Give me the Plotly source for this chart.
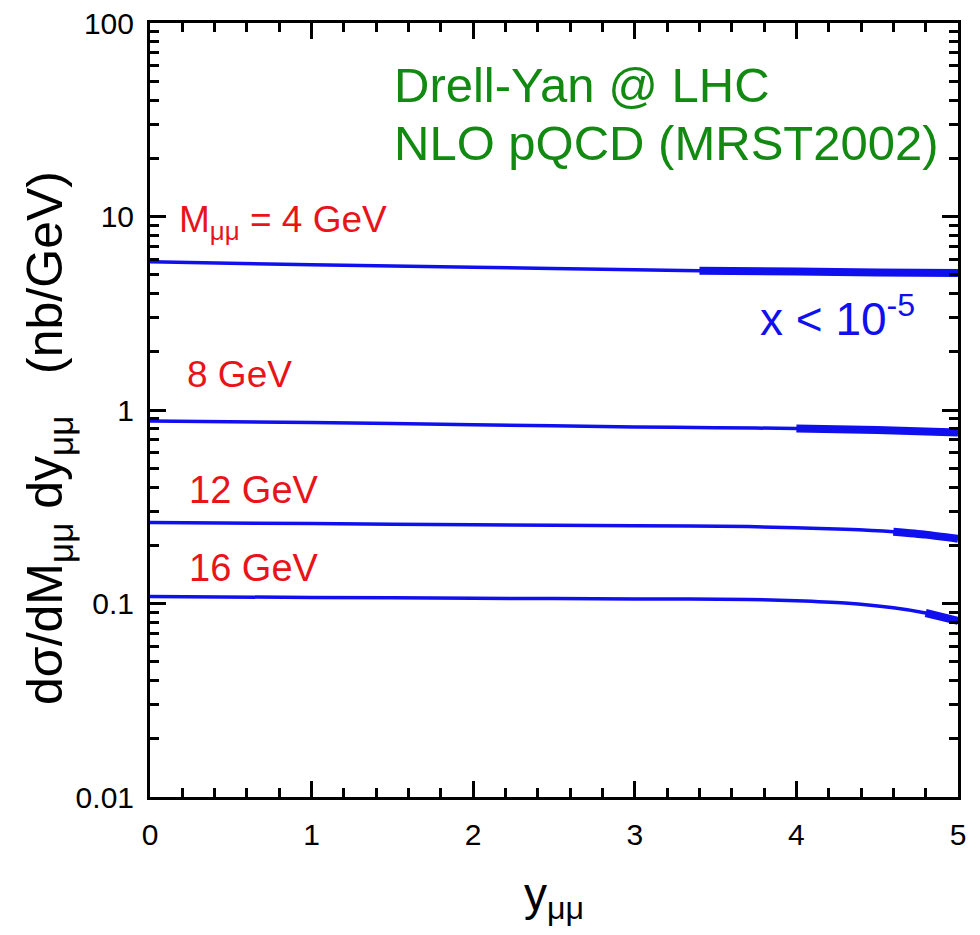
import plotly.graph_objects as go

# Dimuon rapidity (y_mumu) grid and NLO cross sections dsigma/dM dy (nb/GeV)
rapidity_4 = [0, 1, 2, 3, 3.4, 4, 4.5, 5]
xsec_4 = [5.83, 5.64, 5.47, 5.30, 5.25, 5.19, 5.14, 5.10]

rapidity_8 = [0, 1, 2, 3, 3.5, 4, 4.5, 5]
xsec_8 = [0.877, 0.862, 0.840, 0.818, 0.810, 0.803, 0.788, 0.766]

rapidity_12 = [0, 1, 2, 3, 3.7, 4.3, 4.6, 4.8, 5]
xsec_12 = [0.262, 0.259, 0.255, 0.252, 0.2497, 0.242, 0.235, 0.227, 0.216]

rapidity_16 = [0, 1, 2, 3, 3.7, 4.0, 4.3, 4.6, 4.8, 5]
xsec_16 = [0.1086, 0.1075, 0.1064, 0.1056, 0.1050, 0.1034, 0.1005, 0.0950, 0.0893, 0.0814]

# Rapidity above which the probed x drops below 1e-5 (drawn thick)
small_x_start = [3.4, 4.0, 4.6, 4.8]

mass_labels = ["M<sub>μμ</sub> = 4 GeV", "8 GeV", "12 GeV", "16 GeV"]

y_tick_vals = [0.01, 0.1, 1, 10, 100]
y_tick_text = ["0.01", "0.1", "1", "10", "100"]
x_tick_vals = [0, 1, 2, 3, 4, 5]

BLUE = "#1010ee"
RED = "#e8141a"
GREEN = "#128a12"
FONT = "Liberation Sans, Arial, Helvetica, sans-serif"

W, H = 980, 935
ML, MR, MT, MB = 150, 22, 23, 138


def paper_x(px):
    return (px - ML) / (W - ML - MR)


def paper_y(py):
    return (H - MB - py) / (H - MT - MB)


curves = [
    (rapidity_4, xsec_4),
    (rapidity_8, xsec_8),
    (rapidity_12, xsec_12),
    (rapidity_16, xsec_16),
]

fig = go.Figure()
for (ys, xs), x0 in zip(curves, small_x_start):
    fig.add_trace(go.Scatter(
        x=ys, y=xs, mode="lines",
        line=dict(color=BLUE, width=3.5, shape="spline", smoothing=0.6),
        showlegend=False, hoverinfo="skip",
    ))
    ys_hi = [v for v in ys if v >= x0]
    xs_hi = [s for v, s in zip(ys, xs) if v >= x0]
    fig.add_trace(go.Scatter(
        x=ys_hi, y=xs_hi, mode="lines",
        line=dict(color=BLUE, width=8, shape="spline", smoothing=0.6),
        showlegend=False, hoverinfo="skip",
    ))

annotations = [
    dict(text="Drell-Yan @ LHC", x=paper_x(392), y=paper_y(85),
         font=dict(size=49, color=GREEN)),
    dict(text="NLO pQCD (MRST2002)", x=paper_x(392), y=paper_y(143),
         font=dict(size=49, color=GREEN)),
    dict(text=mass_labels[0], x=paper_x(177), y=paper_y(222),
         font=dict(size=37, color=RED)),
    dict(text=mass_labels[1], x=paper_x(185), y=paper_y(375),
         font=dict(size=37, color=RED)),
    dict(text=mass_labels[2], x=paper_x(187), y=paper_y(490),
         font=dict(size=38, color=RED)),
    dict(text=mass_labels[3], x=paper_x(187), y=paper_y(568),
         font=dict(size=38, color=RED)),
    dict(text="x < 10<sup>-5</sup>", x=paper_x(758), y=paper_y(316),
         font=dict(size=46, color=BLUE)),
]
for a in annotations:
    a.update(xref="paper", yref="paper", xanchor="left", yanchor="middle",
             showarrow=False)

# Vertical axis title
annotations.append(dict(
    text="dσ/dM<sub>μμ</sub> dy<sub>μμ</sub>\u00a0\u00a0\u00a0(nb/GeV)",
    x=paper_x(48), y=paper_y(438), xref="paper", yref="paper",
    xanchor="center", yanchor="middle", textangle=-90, showarrow=False,
    font=dict(size=50, color="black"),
))

axis_common = dict(
    showline=True, linecolor="black", linewidth=3, mirror="ticks",
    ticks="inside", tickcolor="black", tickwidth=3, ticklen=16,
    showgrid=False, zeroline=False,
    tickfont=dict(size=30, color="black", family=FONT),
)

fig.update_layout(
    width=W, height=H,
    margin=dict(l=ML, r=MR, t=MT, b=MB, autoexpand=False),
    paper_bgcolor="white", plot_bgcolor="white",
    font=dict(family=FONT, color="black"),
    annotations=annotations,
    xaxis=dict(
        range=[0, 5], tickmode="array", tickvals=x_tick_vals,
        ticklabelstandoff=9,
        minor=dict(ticks="inside", dtick=0.2, ticklen=9, tickwidth=3,
                   tickcolor="black", showgrid=False),
        title=dict(text="y<sub>μμ</sub>", font=dict(size=46), standoff=28),
        **axis_common,
    ),
    yaxis=dict(
        type="log", range=[-2, 2], tickmode="array",
        tickvals=y_tick_vals, ticktext=y_tick_text,
        ticklabelstandoff=7,
        minor=dict(ticks="inside", ticklen=9, tickwidth=3, tickcolor="black",
                   tickmode="array",
                   tickvals=[m * 10.0 ** e for e in range(-2, 2) for m in range(2, 10)],
                   showgrid=False),
        **axis_common,
    ),
)

fig.write_html("out.html")
